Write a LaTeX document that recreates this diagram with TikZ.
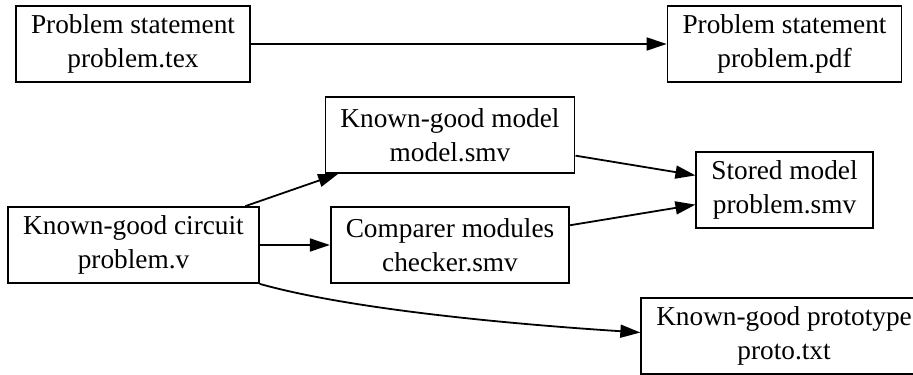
\documentclass[tikz,border=0pt]{standalone}
\usepackage{fontspec}
\setmainfont{Liberation Serif}
\usetikzlibrary{arrows.meta}
\begin{document}
\begin{tikzpicture}[x=0.5pt, y=-0.5pt, line width=0.9pt,
  file/.style={draw, align=center, inner xsep=7.5pt, minimum height=38pt, font=\fontsize{13.65}{17}\selectfont},
  flow/.style={-{Triangle[length=10pt, width=6.5pt]}}]
\useasboundingbox (0,0) rectangle (913,374);
\node[file] (tex) at (133,44) {Problem statement\\problem.tex};
\node[file] (pdf) at (784.5,44) {Problem statement\\problem.pdf};
\node[file] (model) at (450,135) {Known-good model\\model.smv};
\node[file] (stored) at (784.5,190) {Stored model\\problem.smv};
\node[file] (circuit) at (133.5,245) {Known-good circuit\\problem.v};
\node[file] (checker) at (450,245) {Comparer modules\\checker.smv};
\node[file] (proto) at (784,336) {Known-good prototype\\proto.txt};
\draw[flow] (tex) -- (pdf);
\draw[flow] (circuit) -- (model);
\draw[flow] (circuit) -- (checker);
\draw[flow] (model) -- (stored);
\draw[flow] (checker) -- (stored);
\draw[flow] (circuit.south east) .. controls (360,312) and (540,326) .. ([yshift=1.75pt]proto.west);
\end{tikzpicture}
\end{document}
